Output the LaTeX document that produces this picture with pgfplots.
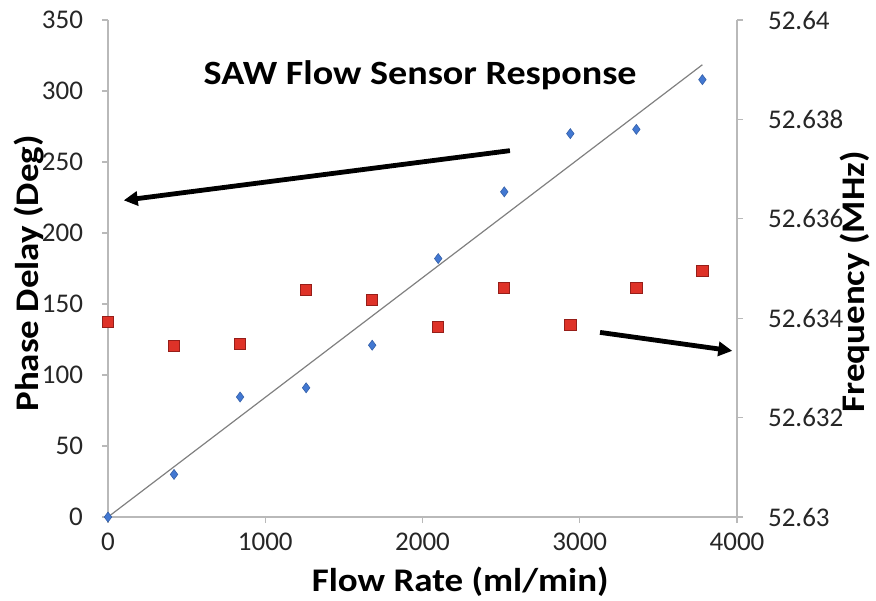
\documentclass[border=0pt]{standalone}
\usepackage{pgfplots}
\pgfplotsset{compat=1.18}
\usetikzlibrary{arrows.meta}
\usepackage{fontspec}
\setmainfont{Carlito}[FakeStretch=1.12]
\newfontfamily\tickfont{Carlito}

\definecolor{axgray}{RGB}{185,185,185}
\definecolor{trendgray}{RGB}{128,128,128}
\definecolor{ptblue}{RGB}{66,120,210}
\definecolor{ptred}{RGB}{222,50,40}
\definecolor{ptredd}{RGB}{150,30,25}

\begin{document}
\begin{tikzpicture}
\pgfplotsset{
  base/.style={
    scale only axis, width=314.5pt, height=248.5pt,
    xmin=0, xmax=4000,
    axis line style={draw=axgray, line width=0.7pt},
    major tick style={draw=axgray, line width=0.7pt},
    tick align=outside, major tick length=3pt,
    tick label style={font=\tickfont\fontsize{13.5}{16}\selectfont, text=black!85},
    label style={font=\bfseries\fontsize{16.5}{19}\selectfont},
    /pgf/number format/1000 sep={},
    /pgf/number format/assume math mode=true,
  },
}
\begin{axis}[base,
  axis x line*=bottom, axis y line*=left,
  ymin=0, ymax=350, ytick={0,50,...,350},
  xtick={0,1000,...,4000},
  yticklabel style={xshift=-6pt},
  xticklabel style={yshift=-4pt, inner ysep=1pt},
  xlabel={Flow Rate (ml/min)},
  ylabel={Phase Delay (Deg)},
  xlabel style={at={(axis description cs:0.56,-0.131)}, anchor=center, inner ysep=0pt},
  ylabel style={at={(axis description cs:-0.126,0.49)}, anchor=center, inner sep=0pt},
  clip=false,
]
\addplot[trendgray, line width=0.6pt] coordinates {(0,0) (3780,318.5)};
\addplot[only marks, mark=diamond*, mark size=2.5pt,
  mark options={fill=ptblue, draw=ptblue!80!black, line width=0.3pt}]
  coordinates {(0,0) (420,30) (840,84.5) (1260,91) (1680,121)
    (2100,182) (2520,229) (2940,270) (3360,273) (3780,308)};
\node[font=\bfseries\fontsize{17}{20}\selectfont] at (axis cs:1985,311) {SAW Flow Sensor Response};
\draw[-{Triangle[length=7pt,width=7pt]}, line width=2.4pt] (axis cs:2556,258) -- (axis cs:100,223);
\draw[-{Triangle[length=7pt,width=7pt]}, line width=2.4pt] (axis cs:3129,130) -- (axis cs:3970,117);
\coordinate (bl) at (rel axis cs:0,0);
\coordinate (tr) at (rel axis cs:1,1);
\end{axis}
\begin{axis}[base,
  axis y line*=right, axis x line=none,
  ymin=52.63, ymax=52.64,
  ytick={52.63,52.632,52.634,52.636,52.638,52.64},
  scaled y ticks=false,
  yticklabel style={xshift=9pt, /pgf/number format/fixed, /pgf/number format/precision=3},
  ylabel={Frequency (MHz)},
  ylabel style={at={(axis description cs:1.188,0.473)}, anchor=center, inner sep=0pt},
]
\addplot[only marks, mark=square*, mark size=2.8pt,
  mark options={fill=ptred, draw=ptredd, line width=0.4pt}]
  coordinates {(0,52.63392) (420,52.63344) (840,52.63348) (1260,52.63457)
    (1680,52.63437) (2100,52.63382) (2520,52.63461) (2940,52.63386)
    (3360,52.63461) (3780,52.63495)};
\end{axis}
\pgfresetboundingbox
\path[use as bounding box] ([shift={(-54pt,-41.5pt)}]bl) rectangle ([shift={(69.5pt,10pt)}]tr);
\end{tikzpicture}
\end{document}
